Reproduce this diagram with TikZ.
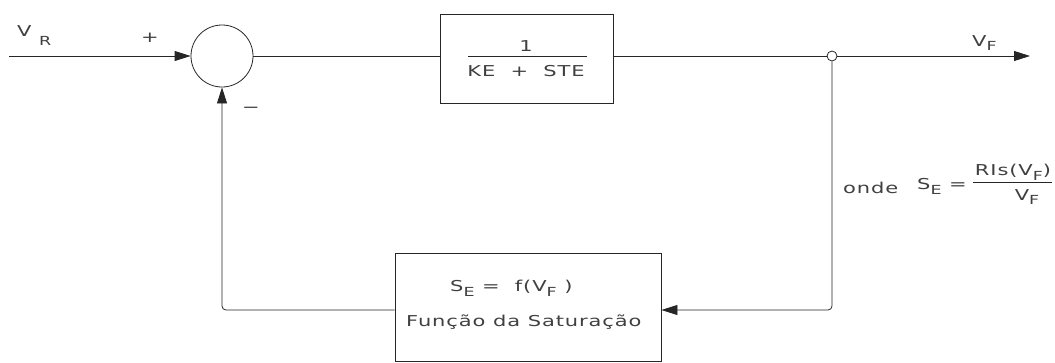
\documentclass[tikz,border=0pt]{standalone}
\usepackage{fontspec}
\setmainfont{DejaVu Sans}[FakeStretch=1.4, LetterSpace=6]
\usetikzlibrary{arrows.meta}
% lowered, smaller subscript letter
\newcommand\lsub[1]{\raisebox{-0.6ex}{\fontsize{12.5}{13}\selectfont #1}}
\tikzset{
  wire/.style={draw=black!85, line width=0.8pt},
  arr/.style={wire, -{Triangle[length=16pt,width=10pt]}},
  blk/.style={draw=black!85, line width=0.8pt, rectangle, inner sep=0pt},
  lbl/.style={inner sep=0pt, text=black!75, font=\fontsize{15}{17}\selectfont}
}
\begin{document}
\begin{tikzpicture}[x=1pt,y=-1pt]
\useasboundingbox (0,0) rectangle (1055,362);

% summing junction, forward block, take-off point
\node[circle, draw=black!85, line width=0.8pt, minimum size=62pt, inner sep=0pt] (sum) at (222,56) {};
\node[blk, minimum width=173pt, minimum height=89pt] (g1) at (526.5,58.5) {};
\node[circle, draw=black!85, line width=0.8pt, fill=white, minimum size=10pt, inner sep=0pt] (jn) at (832,56) {};
\node[blk, minimum width=266pt, minimum height=108pt] (g2) at (528,307) {};

\coordinate (in) at (9,56);
\coordinate (out) at (1030,56);

% transfer function of the forward block
\node[lbl] (g1num) at (526,46) {1};
\draw[wire] (468,56) -- (587,56);
\node[lbl] (g1den) at (526,71) {KE\ \ +\ \ STE};

% saturation block text
\node[lbl, anchor=west] (g2a) at (450,288) {S\lsub{E} =\ \ f(V\lsub{F} )};
\node[lbl, anchor=west] (g2b) at (406,322) {Função da Saturação};

% signal flow
\draw[arr] (in) -- (sum.west);
\draw[wire] (sum.east) -- (sum.east -| g1.west);
\draw[wire] (g1.east |- jn) -- (jn.west);
\draw[arr] (jn.east) -- (out);
\draw[arr, rounded corners=4pt] (jn.south) |- ([yshift=-3pt]g2.east);
\draw[arr, rounded corners=4pt] ([yshift=-3pt]g2.west) -| (sum.south);

% signal labels
\node[lbl, anchor=west] (vr) at (17,36) {V\ \raisebox{-1.1ex}{\fontsize{12.5}{13}\selectfont R}};
\node[lbl] (plus) at (150,38) {+};
\node[lbl] (minus) at (251,110) {−};
\node[lbl, anchor=west] (vf) at (972,43) {V\lsub{F}};

% definition of S_E
\node[lbl, anchor=west] (onde) at (843,188) {onde};
\node[lbl, anchor=west] (se) at (917,186) {S\lsub{E} =};
\node[lbl] (senum) at (1013,172) {RIs(V\lsub{F})};
\draw[wire] (973,182) -- (1052,182);
\node[lbl] (seden) at (1027,197) {V\lsub{F}};
\end{tikzpicture}
\end{document}
